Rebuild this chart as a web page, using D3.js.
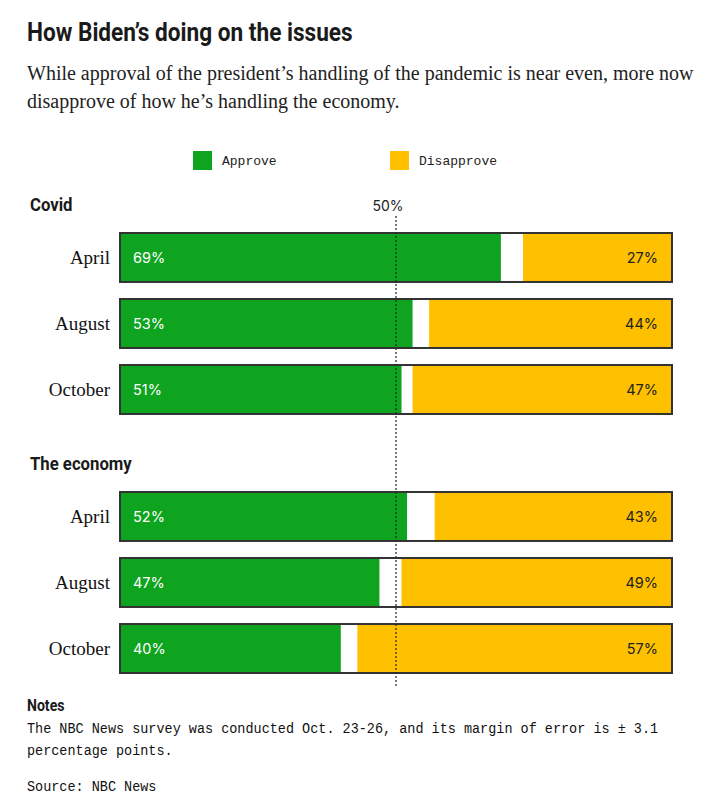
<!DOCTYPE html>
<html>
<head>
<meta charset="utf-8">
<script src="https://cdn.jsdelivr.net/npm/d3@7"></script>
<style>
  body { margin: 0; background: #fff; }
  svg { display: block; }
</style>
</head>
<body>
<script>
// Survey data
const groups = ["Covid", "The economy"];
const months = ["April", "August", "October"];
const approve = [[69, 53, 51], [52, 47, 40]];
const disapprove = [[27, 44, 47], [43, 49, 57]];

const GREEN = "#0ea41f", YELLOW = "#ffc000";
const condensed = "'Roboto', sans-serif";
const serif = "'Liberation Serif', 'DejaVu Serif', serif";
const mono = "'Liberation Mono', 'DejaVu Sans Mono', monospace";
const sans = "'Inter', 'Roboto', sans-serif";

const svg = d3.select("body").append("svg")
    .attr("width", 710).attr("height", 801);

// helper: squeezed bold text to fake a condensed face
function narrow(x0, y0, size, sx, txt) {
    svg.append("g").attr("transform", `translate(${x0},${y0}) scale(${sx},1)`)
        .append("text").attr("font-family", condensed).attr("font-weight", 700)
        .attr("font-size", size).attr("fill", "#1a1a1a").text(txt);
}

// Title + subtitle
narrow(27, 41, 26, 0.87, "How Biden\u2019s doing on the issues");
const sub = ["While approval of the president\u2019s handling of the pandemic is near even, more now",
             "disapprove of how he\u2019s handling the economy."];
sub.forEach((s, i) => svg.append("text").attr("x", 27).attr("y", 80 + i * 28)
    .attr("font-family", serif).attr("font-size", 20).attr("fill", "#222").text(s));

// Legend
const legend = [["Approve", GREEN, 193], ["Disapprove", YELLOW, 390]];
legend.forEach(([t, c, x]) => {
    svg.append("rect").attr("x", x).attr("y", 151).attr("width", 19).attr("height", 19).attr("fill", c);
    svg.append("text").attr("x", x + 29).attr("y", 165)
        .attr("font-family", mono).attr("font-size", 13).attr("fill", "#222").text(t);
});

// Scales
const x = d3.scaleLinear().domain([0, 100]).range([120, 672]);
const groupTop = [233, 492];
const y = d3.scaleBand().domain(months).range([0, 181]).paddingInner(0.258).paddingOuter(0);
const bh = y.bandwidth();

groups.forEach((g, gi) => {
    narrow(30, groupTop[gi] - 22, 19, 0.88, g);

    const grp = svg.append("g").attr("transform", `translate(0,${groupTop[gi]})`);
    months.forEach((m, mi) => {
        const a = approve[gi][mi], d = disapprove[gi][mi];
        const yy = y(m);
        grp.append("rect").attr("x", x(0)).attr("y", yy).attr("width", x(100) - x(0)).attr("height", bh).attr("fill", "#fff");
        grp.append("rect").attr("x", x(0)).attr("y", yy).attr("width", x(a) - x(0)).attr("height", bh).attr("fill", GREEN);
        grp.append("rect").attr("x", x(100 - d)).attr("y", yy).attr("width", x(100) - x(100 - d)).attr("height", bh).attr("fill", YELLOW);
        grp.append("rect").attr("x", x(0)).attr("y", yy).attr("width", x(100) - x(0)).attr("height", bh)
            .attr("fill", "none").attr("stroke", "#333").attr("stroke-width", 2);
        grp.append("text").attr("x", 110).attr("y", yy + bh / 2).attr("dy", "0.35em")
            .attr("text-anchor", "end").attr("font-family", serif).attr("font-size", 19)
            .attr("fill", "#111").text(m);
        grp.append("text").attr("x", x(0) + 13).attr("y", yy + bh / 2).attr("dy", "0.36em")
            .attr("font-family", sans).attr("font-size", 14.5).attr("fill", "#fff").text(a + "%");
        grp.append("text").attr("x", x(100) - 14).attr("y", yy + bh / 2).attr("dy", "0.36em")
            .attr("text-anchor", "end").attr("font-family", sans).attr("font-size", 14.5)
            .attr("fill", "#222").text(d + "%");
    });
});

// 50% reference line
svg.append("line").attr("x1", x(50)).attr("x2", x(50)).attr("y1", 216).attr("y2", 688)
    .attr("stroke", "#222").attr("stroke-width", 1.2).attr("stroke-dasharray", "2,2");
svg.append("text").attr("x", x(50) - 8).attr("y", 211).attr("text-anchor", "middle")
    .attr("font-family", sans).attr("font-size", 14).attr("fill", "#222").text("50%");

// Notes
narrow(27, 711, 16, 0.88, "Notes");
const notes = ["The NBC News survey was conducted Oct. 23-26, and its margin of error is \u00b1 3.1",
               "percentage points.",
               "",
               "Source: NBC News"];
const ng = svg.append("g").attr("transform", "translate(27,0) scale(0.93,1)");
notes.forEach((t, i) => ng.append("text").attr("x", 0).attr("y", [733, 755, 0, 791][i])
    .attr("font-family", mono).attr("font-size", 14.5).attr("fill", "#111").text(t));
</script>
</body>
</html>
